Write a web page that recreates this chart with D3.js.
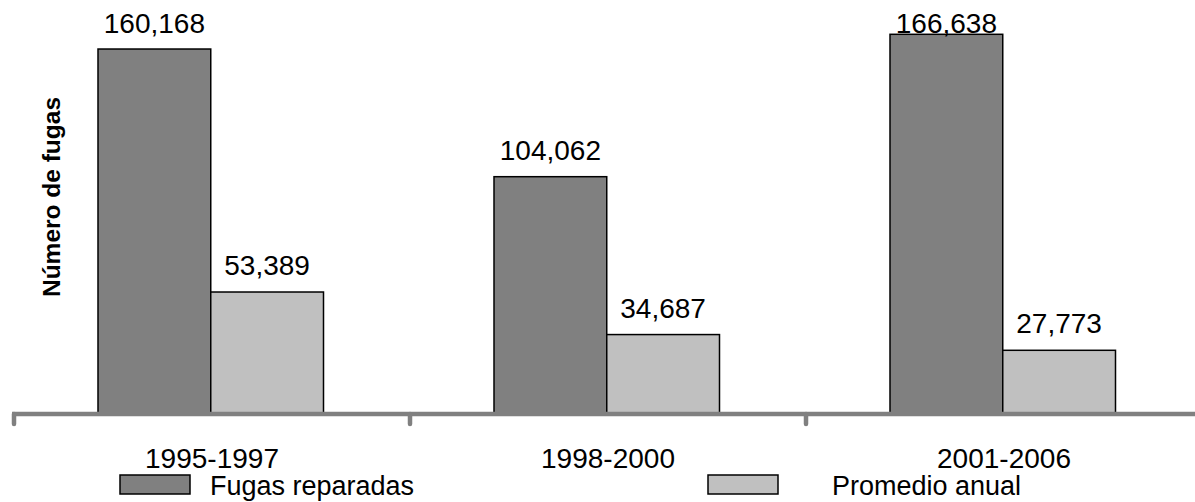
<!DOCTYPE html>
<html><head><meta charset="utf-8">
<script src="https://cdn.jsdelivr.net/npm/d3@7"></script>
<style>body{margin:0;background:#fff}svg{display:block}text{font-family:"Liberation Sans",Arial,sans-serif}</style>
</head><body><svg id="c" width="1195" height="502"></svg>
<script>
const categories = ["1995-1997", "1998-2000", "2001-2006"];
const seriesNames = ["Fugas reparadas", "Promedio anual"];
const fugasReparadas = [160168, 104062, 166638];
const promedioAnual = [53389, 34687, 27773];
const colors = ["#808080", "#c0c0c0"];
const seriesValues = [fugasReparadas, promedioAnual];

const svg = d3.select("#c");
const x0 = d3.scaleBand().domain(categories).range([14, 14 + 396 * 3]).padding(0);
const x1 = d3.scaleBand().domain(seriesNames).range([84, 309.5]).padding(0);
const y = d3.scaleLinear().domain([0, 166638]).range([413.5, 34.3]);
const fmt = d3.format(",");

const groups = svg.selectAll("g.grp").data(categories).join("g")
  .attr("class", "grp").attr("transform", d => `translate(${x0(d)},0)`);

groups.each(function(cat, i) {
  const g = d3.select(this);
  seriesNames.forEach((s, j) => {
    const v = seriesValues[j][i];
    g.append("rect")
      .attr("x", x1(s)).attr("y", y(v))
      .attr("width", x1.bandwidth()).attr("height", y(0) - y(v))
      .attr("fill", colors[j]).attr("stroke", "#000").attr("stroke-width", 1.5);
    g.append("text")
      .attr("x", x1(s) + x1.bandwidth() / 2)
      .attr("y", Math.max(y(v) - 17, 33))
      .attr("text-anchor", "middle").attr("font-size", 28).attr("fill", "#000")
      .text(fmt(v));
  });
});

// axis
const axisG = svg.append("g");
axisG.append("line").attr("x1", 12).attr("x2", 1195).attr("y1", 414).attr("y2", 414)
  .attr("stroke", "#808080").attr("stroke-width", 4.5);
const tickPos = [0, 1, 2].map(i => x0(categories[i]));
axisG.selectAll("line.tick").data(tickPos).join("line").attr("class", "tick")
  .attr("x1", d => d).attr("x2", d => d).attr("y1", 414).attr("y2", 424)
  .attr("stroke", "#808080").attr("stroke-width", 4.5).attr("stroke-linecap", "round");
axisG.selectAll("text.cat").data(categories).join("text").attr("class", "cat")
  .attr("x", d => x0(d) + x0.bandwidth() / 2).attr("y", 468)
  .attr("text-anchor", "middle").attr("font-size", 28).text(d => d);

// y title
svg.append("text").attr("transform", "translate(60,197) rotate(-90)")
  .attr("text-anchor", "middle").attr("font-size", 24.5).attr("font-weight", "bold")
  .text("Número de fugas");

// legend
const legendX = [120, 708];
const legendTextX = [210, 832];
seriesNames.forEach((s, j) => {
  svg.append("rect").attr("x", legendX[j]).attr("y", 475).attr("width", 70).attr("height", 19)
    .attr("fill", colors[j]).attr("stroke", "#000").attr("stroke-width", 1.5);
  svg.append("text").attr("x", legendTextX[j]).attr("y", 495).attr("font-size", 27).text(s);
});
</script></body></html>
